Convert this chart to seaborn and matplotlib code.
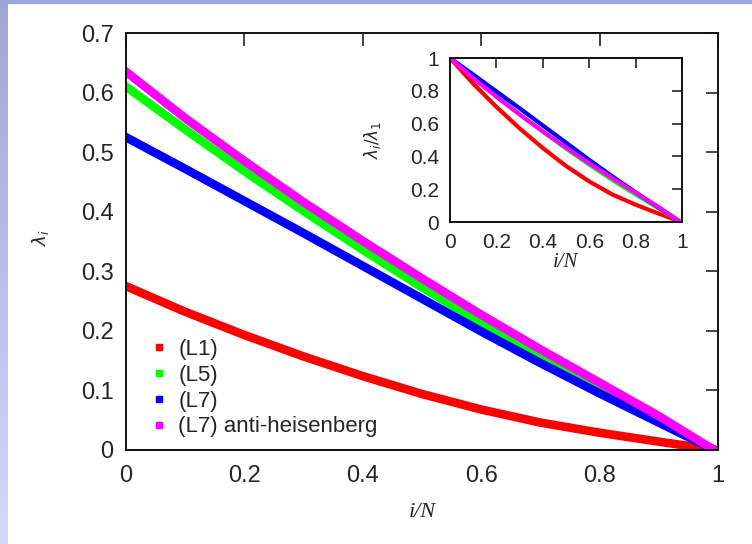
import numpy as np
import pandas as pd
import matplotlib
matplotlib.use("Agg")
import matplotlib.pyplot as plt
from matplotlib.lines import Line2D
import seaborn as sns

# ---------------- data ----------------
i_over_N = [0.0, 0.1, 0.2, 0.3, 0.4, 0.5, 0.6, 0.7, 0.8, 0.9, 0.99]
lam_L1 = [0.275, 0.232, 0.193, 0.157, 0.124, 0.094, 0.068, 0.046, 0.029, 0.014, 0.001]
lam_L5 = [0.610, 0.538, 0.468, 0.401, 0.336, 0.273, 0.213, 0.156, 0.102, 0.050, 0.002]
lam_L7 = [0.525, 0.472, 0.418, 0.364, 0.309, 0.254, 0.199, 0.146, 0.095, 0.046, 0.002]
lam_L7_anti = [0.635, 0.557, 0.485, 0.416, 0.351, 0.288, 0.227, 0.169, 0.113, 0.057, 0.002]

series_names = ["(L1)", "(L5)", "(L7)", "(L7) anti-heisenberg"]
series_colors = ["#ff0000", "#00ff00", "#0000ff", "#ff00ff"]

main_xticks = [0, 0.2, 0.4, 0.6, 0.8, 1.0]
main_xticklabels = ["0", "0.2", "0.4", "0.6", "0.8", "1"]
main_yticks = [0, 0.1, 0.2, 0.3, 0.4, 0.5, 0.6, 0.7]
main_yticklabels = ["0", "0.1", "0.2", "0.3", "0.4", "0.5", "0.6", "0.7"]
inset_ticks = [0, 0.2, 0.4, 0.6, 0.8, 1.0]
inset_ticklabels = ["0", "0.2", "0.4", "0.6", "0.8", "1"]

# ---------------- build tables ----------------
values = [lam_L1, lam_L5, lam_L7, lam_L7_anti]
rows = []
for name, vals in zip(series_names, values):
    for x, v in zip(i_over_N, vals):
        rows.append({"x": x, "lam": v, "ratio": v / vals[0], "series": name})
df = pd.DataFrame(rows)
palette = dict(zip(series_names, series_colors))

# ---------------- style ----------------
sns.set_style("white")
plt.rcParams["font.family"] = ["Liberation Sans", "DejaVu Sans"]
plt.rcParams["mathtext.fontset"] = "dejavusans"

W, H = 752, 544
fig = plt.figure(figsize=(W / 100, H / 100), dpi=100)
fig.patch.set_facecolor("white")

# slide-like blue gradient strips
grad_ax = fig.add_axes([0, 0, 8 / W, 1])
grad = np.linspace(0, 1, 256).reshape(-1, 1)
cmap = matplotlib.colors.LinearSegmentedColormap.from_list("bg", ["#9ea6d8", "#d2d9f8"])
grad_ax.imshow(grad, aspect="auto", cmap=cmap, origin="upper")
grad_ax.axis("off")
fig.patches.append(matplotlib.patches.Rectangle((0, 1 - 3 / H), 1, 3 / H,
                   transform=fig.transFigure, color="#9ea6d8", zorder=0))

# ---------------- main axes ----------------
ax = fig.add_axes([126 / W, 1 - 450 / H, (718 - 126) / W, (450 - 33) / H])
for name in series_names:
    sub = df[df["series"] == name]
    sns.lineplot(data=sub, x="x", y="lam", color=palette[name], lw=6.2,
                 ax=ax, legend=False, solid_capstyle="projecting", solid_joinstyle="round",
                 estimator=None, sort=False)
ax.set_xlim(0, 1)
ax.set_ylim(0, 0.7)
ax.set_xticks(main_xticks)
ax.set_xticklabels(main_xticklabels)
ax.set_yticks(main_yticks)
ax.set_yticklabels(main_yticklabels)
ax.tick_params(direction="in", length=9, width=1.1, labelsize=17, color="#111111",
               top=True, right=True, pad=9)
ax.tick_params(axis="x", pad=11)
for sp in ax.spines.values():
    sp.set_linewidth(1.4)
    sp.set_color("#111111")
    sp.set_visible(True)
ax.set_xlabel("i/N", family=["Liberation Serif"], style="italic", fontsize=16)
ax.set_ylabel(r"$\lambda_i$", fontsize=13, rotation=90)
ax.xaxis.set_label_coords(0.5, -0.149)
ax.xaxis.label.set_va("center")
ax.yaxis.set_label_coords(-0.145, 0.51)
ax.yaxis.label.set_va("center")

handles = [Line2D([0], [0], marker="s", ls="none", color=c, markersize=5)
           for c in series_colors]
leg = ax.legend(handles, series_names, loc="lower left", bbox_to_anchor=(0.045, 0.03),
                frameon=False, fontsize=16, handlelength=0.6, handletextpad=0.55,
                labelspacing=0.22, borderpad=0, borderaxespad=0)

# ---------------- inset ----------------
axi = fig.add_axes([450 / W, 1 - 222 / H, (682 - 450) / W, (222 - 58) / H])
for name in series_names:
    sub = df[df["series"] == name]
    sns.lineplot(data=sub, x="x", y="ratio", color=palette[name], lw=3,
                 ax=axi, legend=False, solid_capstyle="butt", solid_joinstyle="round",
                 estimator=None, sort=False)
axi.set_xlim(0, 1)
axi.set_ylim(0, 1)
axi.set_xticks(inset_ticks)
axi.set_xticklabels(inset_ticklabels)
axi.set_yticks(inset_ticks)
axi.set_yticklabels(inset_ticklabels)
axi.tick_params(direction="in", length=7, width=1.1, labelsize=15, color="#111111",
                top=True, right=True, pad=8)
for sp in axi.spines.values():
    sp.set_linewidth(1.4)
    sp.set_color("#111111")
    sp.set_visible(True)
axi.set_xlabel("i/N", family=["Liberation Serif"], style="italic", fontsize=15)
axi.set_ylabel(r"$\lambda_i/\lambda_1$", fontsize=12, rotation=90)
axi.xaxis.set_label_coords(0.5, -0.245)
axi.xaxis.label.set_va("center")
axi.yaxis.set_label_coords(-0.335, 0.5)
axi.yaxis.label.set_va("center")

fig.savefig("out.png", dpi=100)
